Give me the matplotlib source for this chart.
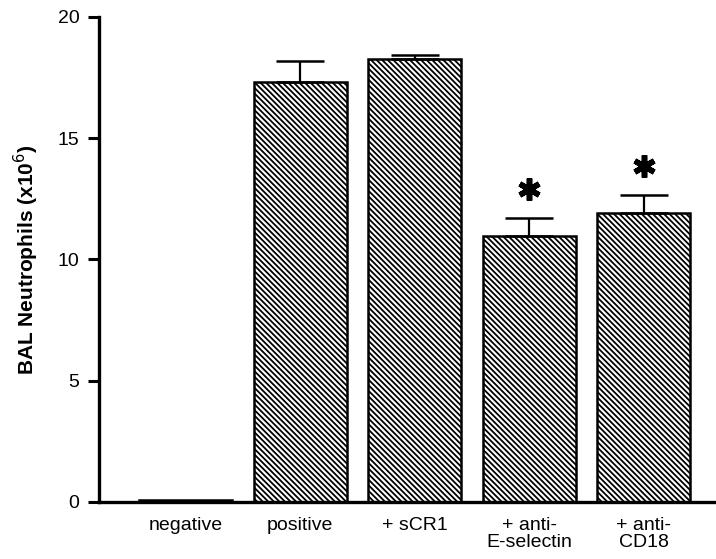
import numpy as np
import matplotlib.pyplot as plt

plt.rcParams['font.family'] = ['Liberation Sans', 'DejaVu Sans']
plt.rcParams['hatch.linewidth'] = 1.3

groups = ['negative', 'positive', '+ sCR1', '+ anti-\nE-selectin', '+ anti-\nCD18']
means = [0.08, 17.3, 18.25, 10.95, 11.9]
errs = [0.0, 0.88, 0.2, 0.75, 0.75]
signif = [False, False, False, True, True]

fig = plt.figure(figsize=(7.16, 5.59), dpi=100)
ax = fig.add_axes([0.1383, 0.102, 0.8617, 0.8676])

x = np.arange(len(groups))
bars = ax.bar(x, means, width=0.81, color='white', edgecolor='black',
              linewidth=1.8, hatch='\\\\\\\\\\\\')
bars[0].set_hatch('')
for i in range(1, len(groups)):
    ax.errorbar(x[i], means[i], yerr=[[0], [errs[i]]], fmt='none',
                ecolor='black', elinewidth=1.6, capsize=17, capthick=1.8)
    if signif[i]:
        # asterisk marking significance
        ax.plot(x[i], means[i] + errs[i] + 1.2, marker=(6, 2, 0), ms=16,
                mew=4, color='black')

ax.set_xlim(-0.755, 4.63)
ax.set_ylim(0, 20)
ax.set_yticks([0, 5, 10, 15, 20])
ax.set_xticks(x)
ax.set_xticklabels(groups, fontsize=14, linespacing=1.0)
ax.tick_params(axis='x', length=0, pad=11)
ax.tick_params(axis='y', direction='out', length=8, width=2.2, labelsize=14, pad=6)
ax.spines['top'].set_visible(False)
ax.spines['right'].set_visible(False)
ax.spines['left'].set_linewidth(2.4)
ax.spines['bottom'].set_linewidth(2.4)
ax.set_ylabel('BAL Neutrophils (x10$^6$)', fontsize=15, fontweight='bold', labelpad=12)

fig.savefig('out.png', dpi=100)
